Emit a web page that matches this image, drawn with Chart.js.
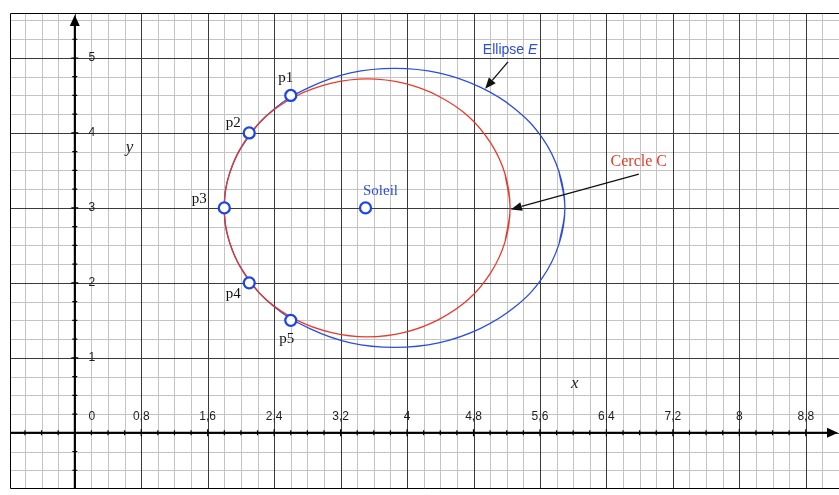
<!DOCTYPE html>
<html>
<head>
<meta charset="utf-8">
<script src="https://cdn.jsdelivr.net/npm/chart.js@4"></script>
<style>
  html, body { margin: 0; padding: 0; background: #fff; }
  #wrap { width: 839px; height: 495px; }
</style>
</head>
<body>
<div id="wrap"><canvas id="orbite" width="839" height="495"></canvas></div>
<script>
// --- données ---
const xTicks = [0, 0.8, 1.6, 2.4, 3.2, 4, 4.8, 5.6, 6.4, 7.2, 8, 8.8];
const xTickLabels = ['0', '0,8', '1,6', '2,4', '3,2', '4', '4,8', '5,6', '6,4', '7,2', '8', '8,8'];
const yTicks = [1, 2, 3, 4, 5];
const yTickLabels = ['1', '2', '3', '4', '5'];

// Cercle C (centré sur le Soleil) - le tracé se recouvre un peu pour fermer la courbe
const cercleX = [5.18, 5.24, 5.18, 5.01, 4.74, 4.38, 3.97, 3.52, 3.08, 2.66, 2.30, 2.03, 1.86, 1.80,
                 1.86, 2.03, 2.30, 2.66, 3.08, 3.52, 3.97, 4.38, 4.74, 5.01, 5.18, 5.24, 5.18];
const cercleY = [2.55, 3.00, 3.45, 3.86, 4.22, 4.49, 4.66, 4.72, 4.66, 4.49, 4.22, 3.86, 3.45, 3.00,
                 2.55, 2.14, 1.78, 1.51, 1.34, 1.28, 1.34, 1.51, 1.78, 2.14, 2.55, 3.00, 3.45];

// Ellipse E (passe par p1..p5)
const ellipseX = [5.83, 5.90, 5.83, 5.63, 5.30, 4.88, 4.38, 3.85, 3.32, 2.83, 2.40, 2.08, 1.87, 1.80,
                  1.87, 2.08, 2.40, 2.83, 3.32, 3.85, 4.38, 4.88, 5.30, 5.63, 5.83, 5.90, 5.83];
const ellipseY = [2.52, 3.00, 3.48, 3.93, 4.32, 4.61, 4.80, 4.86, 4.80, 4.61, 4.32, 3.93, 3.48, 3.00,
                  2.52, 2.07, 1.68, 1.39, 1.20, 1.14, 1.20, 1.39, 1.68, 2.07, 2.52, 3.00, 3.48];

// points observés + Soleil
const pointNames = ['p1', 'p2', 'p3', 'p4', 'p5', 'Soleil'];
const pointX = [2.6, 2.1, 1.8, 2.1, 2.6, 3.5];
const pointY = [4.5, 4.0, 3.0, 2.0, 1.5, 3.0];

const RED = '#e63b2c';
const BLUE = '#2c4ed8';

const toXY = (xs, ys) => xs.map((x, i) => ({ x: x, y: ys[i] }));

// --- quadrillage + axes ---
const gridPlugin = {
    id: 'papierMillimetre',
    beforeDatasetsDraw(chart) {
        const { ctx, chartArea: a, scales: { x, y } } = chart;
        const px = v => Math.round(x.getPixelForValue(v)) + 0.5;
        const py = v => Math.round(y.getPixelForValue(v)) + 0.5;
        ctx.save();
        ctx.fillStyle = '#fff';
        ctx.fillRect(a.left, a.top, a.right - a.left, a.bottom - a.top);
        ctx.lineWidth = 1;
        // lignes fines puis lignes principales
        [false, true].forEach(major => {
            ctx.strokeStyle = major ? '#3a3a3a' : '#c4c4c4';
            ctx.beginPath();
            for (let i = -3; i <= 46; i++) {
                if ((i % 4 === 0) !== major) continue;
                const X = px(i * 0.2);
                ctx.moveTo(X, a.top); ctx.lineTo(X, a.bottom);
            }
            for (let i = -2; i <= 22; i++) {
                if ((i % 4 === 0) !== major) continue;
                const Y = py(i * 0.25);
                ctx.moveTo(a.left, Y); ctx.lineTo(a.right, Y);
            }
            ctx.stroke();
        });

        // cadre
        ctx.strokeStyle = '#000';
        ctx.beginPath();
        ctx.moveTo(a.right, a.top + 0.5); ctx.lineTo(a.left + 0.5, a.top + 0.5);
        ctx.lineTo(a.left + 0.5, a.bottom - 0.5); ctx.lineTo(a.right, a.bottom - 0.5);
        ctx.stroke();

        // axes
        const X0 = x.getPixelForValue(0);
        const Y0 = y.getPixelForValue(0);
        ctx.lineWidth = 2;
        ctx.beginPath();
        ctx.moveTo(a.left, Y0); ctx.lineTo(a.right - 6, Y0);
        ctx.moveTo(X0, a.bottom); ctx.lineTo(X0, a.top + 8);
        ctx.stroke();
        ctx.fillStyle = '#000';
        ctx.beginPath();
        ctx.moveTo(a.right - 1, Y0); ctx.lineTo(a.right - 12, Y0 - 5); ctx.lineTo(a.right - 12, Y0 + 5);
        ctx.closePath(); ctx.fill();
        ctx.beginPath();
        ctx.moveTo(X0, a.top + 2); ctx.lineTo(X0 - 5, a.top + 13); ctx.lineTo(X0 + 5, a.top + 13);
        ctx.closePath(); ctx.fill();

        // graduations
        ctx.lineWidth = 1.2;
        ctx.beginPath();
        for (let i = -3; i <= 44; i++) {
            const X = x.getPixelForValue(i * 0.2);
            const h = i % 4 === 0 ? 3.5 : 2.5;
            ctx.moveTo(X, Y0 - h); ctx.lineTo(X, Y0 + h);
        }
        for (let i = -2; i <= 21; i++) {
            const Y = y.getPixelForValue(i * 0.25);
            const h = i % 4 === 0 ? 3.5 : 2.5;
            ctx.moveTo(X0 - h, Y); ctx.lineTo(X0 + h, Y);
        }
        ctx.stroke();

        // libellés des graduations
        ctx.fillStyle = '#1e1e1e';
        ctx.font = '12px "Liberation Sans", Arial, sans-serif';
        ctx.textAlign = 'center';
        ctx.textBaseline = 'middle';
        xTicks.forEach((v, i) => {
            const X = v === 0 ? X0 + 17 : x.getPixelForValue(v);
            ctx.fillText(xTickLabels[i], X, Y0 - 16);
        });
        yTicks.forEach((v, i) => {
            ctx.fillText(yTickLabels[i], X0 + 17, y.getPixelForValue(v));
        });
        ctx.restore();
    }
};

function arrow(ctx, x1, y1, x2, y2) {
    const ang = Math.atan2(y2 - y1, x2 - x1);
    const len = 11, half = 4.5;
    const bx = x2 - len * Math.cos(ang), by = y2 - len * Math.sin(ang);
    ctx.beginPath();
    ctx.moveTo(x1, y1); ctx.lineTo(bx, by);
    ctx.stroke();
    ctx.beginPath();
    ctx.moveTo(x2, y2);
    ctx.lineTo(bx + half * Math.sin(ang), by - half * Math.cos(ang));
    ctx.lineTo(bx - half * Math.sin(ang), by + half * Math.cos(ang));
    ctx.closePath();
    ctx.fill();
}

// --- textes et flèches ---
const labelPlugin = {
    id: 'etiquettes',
    afterDatasetsDraw(chart) {
        const { ctx, scales: { x, y } } = chart;
        const P = (vx, vy) => [x.getPixelForValue(vx), y.getPixelForValue(vy)];
        ctx.save();
        ctx.textAlign = 'center';
        ctx.textBaseline = 'middle';

        // noms des points
        const offsets = [[-5, -17], [-16, -10], [-25, -9], [-16, 11], [-4, 19], [15, -17]];
        pointNames.forEach((name, i) => {
            const [X, Y] = P(pointX[i], pointY[i]);
            ctx.fillStyle = name === 'Soleil' ? BLUE : '#111';
            ctx.font = '15px "Liberation Serif", "Times New Roman", serif';
            ctx.fillText(name, X + offsets[i][0], Y + offsets[i][1]);
        });

        // axes x / y
        ctx.fillStyle = '#222';
        ctx.font = 'italic 17px "Liberation Serif", "Times New Roman", serif';
        ctx.fillText('y', ...P(0.66, 3.81));
        ctx.fillText('x', ...P(6.02, 0.66));

        // Ellipse E
        ctx.fillStyle = BLUE;
        ctx.font = '14px "Liberation Sans", Arial, sans-serif';
        const [ex, ey] = P(5.24, 5.11);
        const w1 = ctx.measureText('Ellipse ').width;
        ctx.font = 'italic 14px "Liberation Sans", Arial, sans-serif';
        const w2 = ctx.measureText('E').width;
        ctx.textAlign = 'left';
        ctx.font = '14px "Liberation Sans", Arial, sans-serif';
        ctx.fillText('Ellipse ', ex - (w1 + w2) / 2, ey);
        ctx.font = 'italic 14px "Liberation Sans", Arial, sans-serif';
        ctx.fillText('E', ex - (w1 + w2) / 2 + w1, ey);

        // Cercle C
        ctx.textAlign = 'center';
        ctx.fillStyle = RED;
        ctx.font = '16px "Liberation Serif", "Times New Roman", serif';
        ctx.fillText('Cercle C', ...P(6.79, 3.61));

        // flèches
        ctx.strokeStyle = '#111';
        ctx.fillStyle = '#111';
        ctx.lineWidth = 1.3;
        arrow(ctx, ...P(5.215, 4.947), ...P(4.94, 4.59));
        arrow(ctx, ...P(6.79, 3.45), ...P(5.25, 2.98));
        ctx.restore();
    }
};

const chart = new Chart(document.getElementById('orbite').getContext('2d'), {
    type: 'scatter',
    data: {
        datasets: [
            {
                label: 'points',
                data: toXY(pointX, pointY),
                showLine: false,
                pointRadius: 5.5,
                pointBorderWidth: 2.3,
                pointBackgroundColor: '#fff',
                pointBorderColor: '#1f45e6',
                order: 0
            },
            {
                label: 'Cercle C',
                data: toXY(cercleX, cercleY),
                showLine: true,
                borderColor: RED,
                borderWidth: 1.3,
                tension: 0.4,
                pointRadius: 0,
                fill: false,
                order: 1
            },
            {
                label: 'Ellipse E',
                data: toXY(ellipseX, ellipseY),
                showLine: true,
                borderColor: BLUE,
                borderWidth: 1.3,
                tension: 0.4,
                pointRadius: 0,
                fill: false,
                order: 2
            }
        ]
    },
    options: {
        responsive: false,
        animation: false,
        layout: { autoPadding: false, padding: { left: 10, top: 13, right: 0, bottom: 6 } },
        scales: {
            x: { type: 'linear', min: -0.78, max: 9.2, display: false },
            y: { type: 'linear', min: -0.75, max: 5.6, display: false }
        },
        plugins: {
            legend: { display: false },
            tooltip: { enabled: false }
        }
    },
    plugins: [gridPlugin, labelPlugin]
});
</script>
</body>
</html>
